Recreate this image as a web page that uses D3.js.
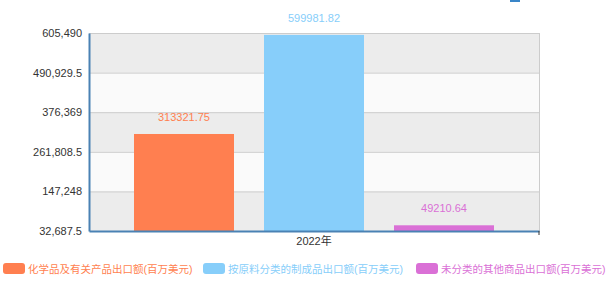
<!DOCTYPE html>
<html>
<head>
<meta charset="utf-8">
<script src="https://cdn.jsdelivr.net/npm/d3@7"></script>
<style>
  body { margin: 0; background: #fff; }
  svg { display: block; font-family: "Liberation Sans", Arial, "Noto Sans CJK SC", sans-serif; }
</style>
</head>
<body>
<div id="chart"></div>
<script>
const categories = ["2022年"];
const seriesNames = ["化学品及有关产品出口额(百万美元)", "按原料分类的制成品出口额(百万美元)", "未分类的其他商品出口额(百万美元)"];
const seriesValues = [313321.75, 599981.82, 49210.64];
const seriesColors = ["#ff7f50", "#87cefa", "#da70d6"];
const yTicks = [32687.5, 147248, 261808.5, 376369, 490929.5, 605490];

const width = 611, height = 284;
const margin = { top: 33, right: 72, bottom: 53, left: 89 };
const innerW = width - margin.left - margin.right;
const innerH = height - margin.top - margin.bottom;
const fontFam = "\"Liberation Sans\", Arial, \"Noto Sans CJK SC\", sans-serif";

const svg = d3.select("#chart").append("svg")
    .attr("width", width)
    .attr("height", height);

// little cut-off toolbox icon at the top
svg.append("rect").attr("x", 510).attr("y", 0).attr("width", 10).attr("height", 2).attr("fill", "#3a86c8");

const g = svg.append("g").attr("transform", `translate(${margin.left},${margin.top})`);

const y = d3.scaleLinear().domain([yTicks[0], yTicks[yTicks.length - 1]]).range([innerH, 0]);
const x = d3.scaleBand().domain(categories).range([0, innerW]).paddingInner(0).paddingOuter(0.125);
const xSub = d3.scaleBand().domain(d3.range(seriesValues.length)).range([0, x.bandwidth()]).paddingInner(0.2308);

// alternating background bands
const bands = d3.pairs(yTicks);
g.selectAll(".band").data(bands).join("rect")
    .attr("x", 0)
    .attr("width", innerW)
    .attr("y", d => y(d[1]))
    .attr("height", d => y(d[0]) - y(d[1]))
    .attr("fill", (d, i) => (bands.length - 1 - i) % 2 === 0 ? "#ececec" : "#fafafa");

// grid lines
g.selectAll(".grid").data(yTicks.slice(1)).join("line")
    .attr("x1", 0).attr("x2", innerW)
    .attr("y1", d => y(d) + 0.5).attr("y2", d => y(d) + 0.5)
    .attr("stroke", "#cccccc");
g.append("line")
    .attr("x1", innerW + 0.5).attr("x2", innerW + 0.5)
    .attr("y1", 0).attr("y2", innerH)
    .attr("stroke", "#cccccc");

// bars
const cat = categories[0];
g.selectAll(".bar").data(seriesValues).join("rect")
    .attr("x", (d, i) => x(cat) + xSub(i))
    .attr("width", xSub.bandwidth())
    .attr("y", d => y(d))
    .attr("height", d => innerH - y(d))
    .attr("fill", (d, i) => seriesColors[i]);

// value labels
g.selectAll(".val").data(seriesValues).join("text")
    .attr("x", (d, i) => x(cat) + xSub(i) + xSub.bandwidth() / 2)
    .attr("y", d => y(d) - 13)
    .attr("text-anchor", "middle")
    .attr("font-size", 11)
    .attr("fill", (d, i) => seriesColors[i])
    .text(d => d);

// y axis
const yAxis = g.append("g")
    .call(d3.axisLeft(y).tickValues(yTicks).tickSize(0).tickPadding(7)
        .tickFormat(d3.format(",")));
yAxis.select(".domain").attr("stroke", "#4a82b4").attr("stroke-width", 2);
yAxis.selectAll("text").attr("font-size", 11).attr("fill", "#333").attr("font-family", fontFam);

// x axis
const xAxis = g.append("g").attr("transform", `translate(0,${innerH})`)
    .call(d3.axisBottom(x).tickSize(0).tickPadding(6));
xAxis.select(".domain").attr("stroke", "#4a82b4").attr("stroke-width", 2);
xAxis.selectAll("text").attr("font-size", 11).attr("fill", "#333").attr("font-family", fontFam);
g.append("line")
    .attr("x1", innerW).attr("x2", innerW)
    .attr("y1", innerH).attr("y2", innerH + 4)
    .attr("stroke", "#333");

// legend
const legendX = [3, 203, 416];
const legend = svg.append("g").attr("transform", "translate(0,263)");
seriesNames.forEach((name, i) => {
    const item = legend.append("g").attr("transform", `translate(${legendX[i]},0)`);
    item.append("rect").attr("width", 22).attr("height", 11).attr("rx", 3)
        .attr("fill", seriesColors[i]);
    item.append("text").attr("x", 25).attr("y", 10)
        .attr("font-size", 10.5).attr("fill", seriesColors[i])
        .text(name);
});
</script>
</body>
</html>
